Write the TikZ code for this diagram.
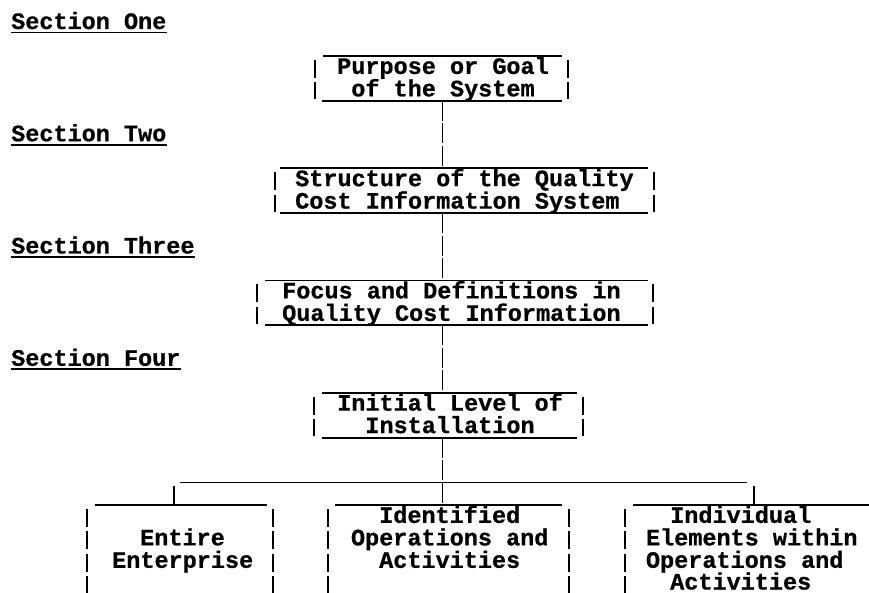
\documentclass[tikz,border=0pt]{standalone}
\usepackage{fontspec}
\newfontfamily\tw{Liberation Mono}[UprightFont={* Bold}, FakeBold=0.7]
\begin{document}
\begin{tikzpicture}[x=1pt,y=-1pt,
  txt/.style={font=\tw\fontsize{23.5}{22.45}\selectfont, inner sep=0pt, anchor=base west},
  hline/.style={line width=1.8pt},
  vbar/.style={line width=1.6pt, dash pattern=on 18pt off 4.45pt},
  conn/.style={line width=1.6pt, dash pattern=on 20pt off 2.45pt},
  uline/.style={line width=1.6pt}]
\useasboundingbox (0,0) rectangle (869,593);

% section labels
\node[txt] (s1) at (11,29) {Section One};
\node[txt] (s2) at (11,141.25) {Section Two};
\node[txt] (s3) at (11,253.5) {Section Three};
\node[txt] (s4) at (11,365.75) {Section Four};
\foreach \s in {s1,s2,s3,s4}
  \draw[uline] ([yshift=-3.5pt]\s.base west) -- ([yshift=-3.5pt]\s.base east);

% box 1
\node[txt] (b1a) at (337,73.9) {Purpose or Goal};
\node[txt] (b1b) at (351.1,96.35) {of the System};
\draw[hline] (323,55.95) -- (562,55.95);
\draw[hline] (322,100.85) -- (562,100.85);
\draw[vbar] (315,59.9) -- (315,99.35);
\draw[vbar] (568,59.9) -- (568,99.35);
\coordinate (b1s) at (442.5,100.85);

% box 2
\node[txt] (b2a) at (295,186.15) {Structure of the Quality};
\node[txt] (b2b) at (295,208.6) {Cost Information System};
\draw[hline] (280,168.2) -- (648,168.2);
\draw[hline] (280,213.1) -- (648,213.1);
\draw[vbar] (275,172.15) -- (275,211.6);
\draw[vbar] (654,172.15) -- (654,211.6);
\coordinate (b2n) at (442.5,168.2);
\coordinate (b2s) at (442.5,213.1);

% box 3
\node[txt] (b3a) at (282,298.4) {Focus and Definitions in};
\node[txt] (b3b) at (282,320.85) {Quality Cost Information};
\draw[hline] (265,280.45) -- (648,280.45);
\draw[hline] (265,325.35) -- (648,325.35);
\draw[vbar] (257,284.4) -- (257,323.85);
\draw[vbar] (653,284.4) -- (653,323.85);
\coordinate (b3n) at (442.5,280.45);
\coordinate (b3s) at (442.5,325.35);

% box 4
\node[txt] (b4a) at (337,410.65) {Initial Level of};
\node[txt] (b4b) at (365.2,433.1) {Installation};
\draw[hline] (322,392.7) -- (577,392.7);
\draw[hline] (322,437.6) -- (577,437.6);
\draw[vbar] (314,396.65) -- (314,436.1);
\draw[vbar] (583,396.65) -- (583,436.1);
\coordinate (b4n) at (442.5,392.7);
\coordinate (b4s) at (442.5,437.6);

% bottom left box
\node[txt] (l1) at (140,545.35) {Entire};
\node[txt] (l2) at (112,567.8) {Enterprise};
\draw[hline] (95,504.95) -- (267,504.95);
\draw[vbar] (87,508.9) -- (87,593);
\draw[vbar] (273,508.9) -- (273,593);
\coordinate (ln) at (174,504.95);

% bottom middle box
\node[txt] (m1) at (379,522.9) {Identified};
\node[txt] (m2) at (350.8,545.35) {Operations and};
\node[txt] (m3) at (379,567.8) {Activities};
\draw[hline] (335,504.95) -- (562,504.95);
\draw[vbar] (328,508.9) -- (328,593);
\draw[vbar] (569,508.9) -- (569,593);
\coordinate (mn) at (442.5,504.95);

% bottom right box
\node[txt] (r1) at (670,522.9) {Individual};
\node[txt] (r2) at (645.8,545.35) {Elements within};
\node[txt] (r3) at (645.8,567.8) {Operations and};
\node[txt] (r4) at (670,589.5) {Activities};
\draw[hline] (633,504.95) -- (869,504.95);
\draw[vbar] (625,508.9) -- (625,593);
\coordinate (rn) at (754,504.95);

% connectors
\draw[conn] (b1s) -- (b2n);
\draw[conn] (b2s) -- (b3n);
\draw[conn] (b3s) -- (b4n);
\draw[conn] (b4s) -- (mn);
\coordinate (busl) at (180,482.5);
\coordinate (busr) at (747,482.5);
\draw[hline] (busl) -- (busr);
\coordinate (ldrop) at (174,486);
\coordinate (rdrop) at (754,486);
\draw[conn] (ldrop) -- (ln);
\draw[conn] (rdrop) -- (rn);
\end{tikzpicture}
\end{document}
